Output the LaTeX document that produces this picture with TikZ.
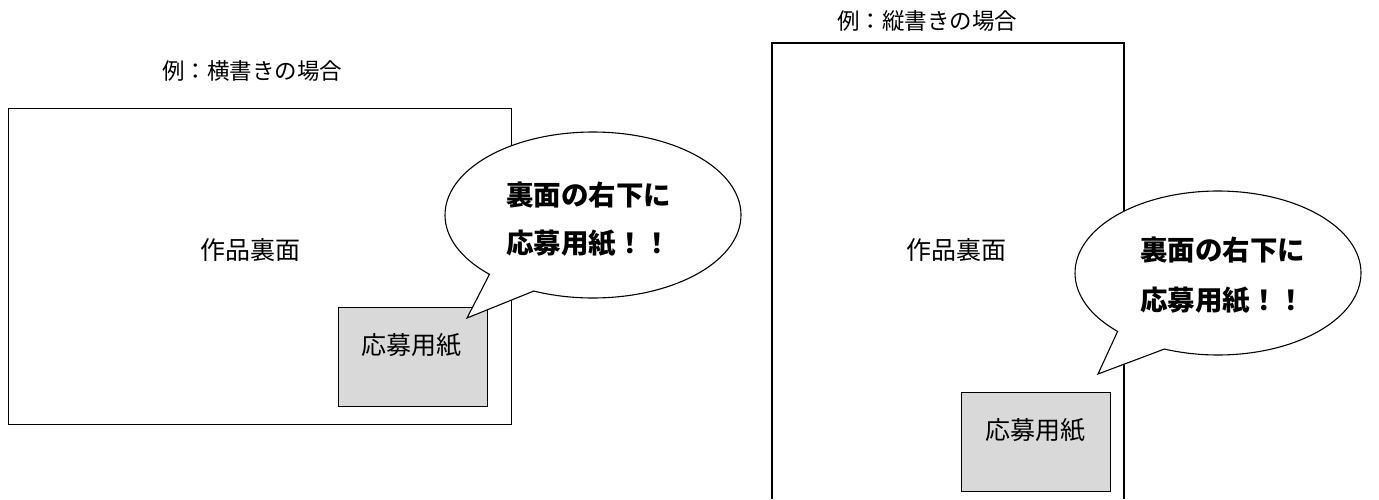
\documentclass[tikz,border=0pt]{standalone}
\usepackage{fontspec}
\newfontfamily\jp{Noto Sans CJK JP}
\usetikzlibrary{calc}
\tikzset{
  frame/.style={draw=black, line width=1.3pt, fill=white},
  slip/.style={draw=black, line width=1.3pt, fill=black!15},
  bubble/.style={draw=black, line width=1.1pt, fill=white, line join=miter},
  body/.style={font=\jp\fontsize{25}{30}\selectfont, inner sep=0pt},
  ttl/.style={font=\jp\fontsize{22.5}{27}\selectfont, inner sep=0pt},
  shout/.style={font=\jp\bfseries\fontsize{27.5}{32}\selectfont, inner sep=0pt, anchor=west},
}
\begin{document}
\begin{tikzpicture}[x=1pt, y=-1pt]
\useasboundingbox (0,0) rectangle (1379,499);

% ---------- left: horizontal ----------
\node[ttl] (t1) at (252,71) {例：横書きの場合};
\node[frame, minimum width=503pt, minimum height=316pt, anchor=north west, inner sep=0pt] (p1) at (8,108) {};
\node[body] (b1) at (250,250) {作品裏面};
\node[slip, minimum width=149pt, minimum height=99pt, anchor=north west, inner sep=0pt] (s1) at (338,307) {};
\node[body] (f1) at (411,345) {応募用紙};

\coordinate (c1) at (593,215);
\coordinate (tip1) at (467,318);
\path[bubble] ($(c1)+(134.4:148 and 83)$) arc[start angle=134.4, end angle=473.6, x radius=148, y radius=83] -- (tip1) -- cycle;
\node[shout] (l1a) at (506,195) {裏面の右下に};
\node[shout] (l1b) at (506,243) {応募用紙！！};

% ---------- right: vertical ----------
\node[ttl] (t2) at (927,21) {例：縦書きの場合};
\coordinate (p2bl) at (772,499);
\coordinate (p2tl) at (772,43);
\coordinate (p2tr) at (1124,43);
\coordinate (p2br) at (1124,499);
\draw[line width=1.3pt] (p2bl) -- (p2tl) -- (p2tr) -- (p2br);
\node[body] (b2) at (956,250) {作品裏面};
\node[slip, minimum width=149pt, minimum height=99pt, anchor=north west, inner sep=0pt] (s2) at (961,392) {};
\node[body] (f2) at (1035,430) {応募用紙};

\coordinate (c2) at (1218,273);
\coordinate (tip2) at (1098,374);
\path[bubble] ($(c2)+(134.6:143 and 82)$) arc[start angle=134.6, end angle=472, x radius=143, y radius=82] -- (tip2) -- cycle;
\node[shout] (l2a) at (1140,250) {裏面の右下に};
\node[shout] (l2b) at (1140,300) {応募用紙！！};
\end{tikzpicture}
\end{document}
